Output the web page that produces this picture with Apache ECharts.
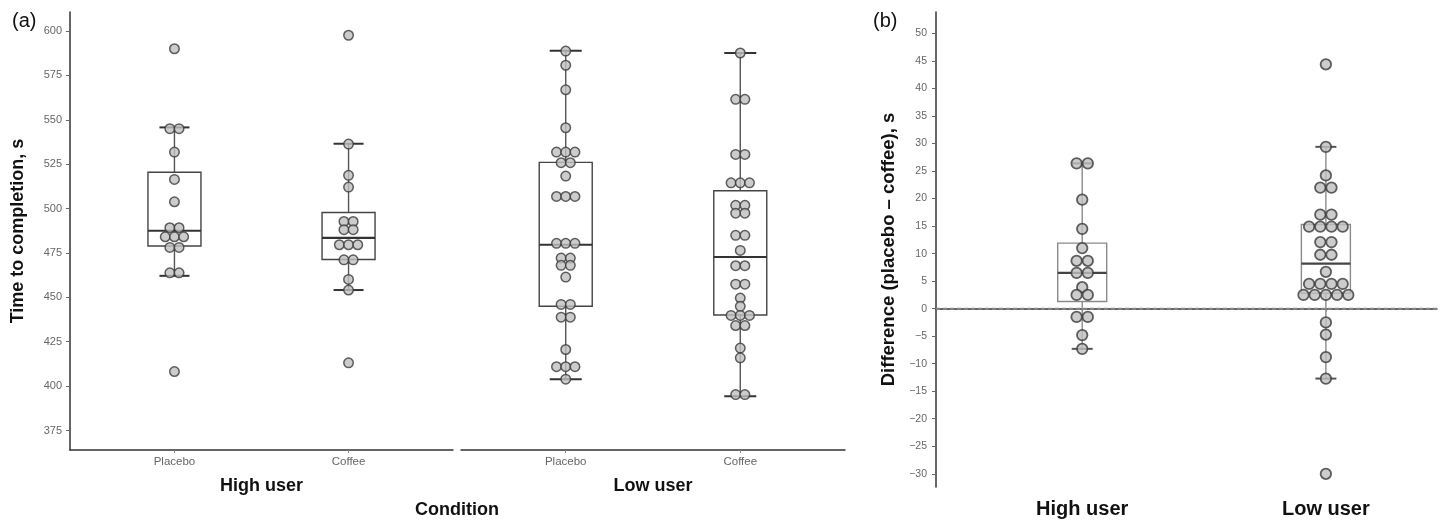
<!DOCTYPE html>
<html>
<head>
<meta charset="utf-8">
<script src="https://cdn.jsdelivr.net/npm/echarts@6/dist/echarts.min.js"></script>
<style>
html, body { margin: 0; padding: 0; background: #fff; }
#chart { width: 1445px; height: 520px; }
</style>
</head>
<body>
<div id="chart"></div>
<script>
// categories and ticks
var conditions = ['Placebo', 'Coffee'];
var userGroups = ['High user', 'Low user'];
var timeTicks = [375, 400, 425, 450, 475, 500, 525, 550, 575, 600];
var diffTicks = [-30, -25, -20, -15, -10, -5, 0, 5, 10, 15, 20, 25, 30, 35, 40, 45, 50];

// panel (a): time to completion, s (one entry per dot)
var highPlacebo = [590, 545, 545, 531.8, 516.4, 503.8, 489.2, 489.2, 484.1, 484.1, 484.1, 478.1, 478.1, 463.8, 463.8, 408.2];
var highCoffee = [597.6, 536.3, 518.7, 512.1, 492.7, 492.7, 488.1, 488.1, 479.6, 479.6, 479.6, 471.1, 471.1, 460.1, 454.1, 413.1];
var lowPlacebo = [588.7, 580.7, 566.9, 545.5, 531.8, 531.8, 531.8, 525.8, 525.8, 518.3, 506.8, 506.8, 506.8,
	480.4, 480.4, 480.4, 472.1, 472.1, 468, 468, 461.4, 446, 446, 438.8, 438.8, 420.6, 410.9, 410.9, 410.9, 403.9];
var lowCoffee = [587.6, 561.5, 561.5, 530.5, 530.5, 514.5, 514.5, 514.5, 501.8, 501.8, 497.4, 497.4, 484.9, 484.9,
	476.4, 467.8, 467.8, 457.4, 457.4, 449.6, 444.9, 439.8, 439.8, 439.8, 434.1, 434.1, 421.4, 415.9, 395.2, 395.2];

// box stats: [lower whisker, Q1, median, Q3, upper whisker]
var highPlaceboBox = [462.1, 478.9, 487.5, 520.4, 545.7];
var highCoffeeBox = [454.1, 471.3, 483.5, 497.8, 536.5];
var lowPlaceboBox = [403.9, 445.0, 479.6, 526.0, 588.9];
var lowCoffeeBox = [394.3, 440.0, 472.7, 510.0, 587.6];

// panel (b): difference (placebo - coffee), s
var highDiff = [26.4, 26.4, 19.8, 14.5, 11.0, 8.7, 8.7, 6.5, 6.5, 3.9, 2.5, 2.5, -1.5, -1.5, -4.8, -7.3];
var lowDiff = [44.4, 29.4, 24.2, 22.0, 22.0, 17.1, 17.1, 14.9, 14.9, 14.9, 14.9, 12.1, 12.1, 9.8, 9.8, 6.7,
	4.5, 4.5, 4.5, 4.5, 2.5, 2.5, 2.5, 2.5, 2.5, -2.5, -4.7, -8.8, -12.7, -30];
var highDiffBox = [-7.3, 1.3, 6.5, 11.9, 26.4];
var lowDiffBox = [-12.7, 2.8, 8.2, 15.3, 29.4];
var zeroLine = [[0.4, 0], [2.456, 0]];

var FONT = '"Liberation Sans", Arial, sans-serif';
var myChart = echarts.init(document.getElementById('chart'));

// centred dot stacking (like geom_dotplot), step given in x units
var stackDots = function(values, xPos, step) {
	var counts = {}, seen = {}, out = [];
	values.forEach(function(v) { counts[v] = (counts[v] || 0) + 1; });
	values.forEach(function(v) {
		var i = seen[v] || 0;
		seen[v] = i + 1;
		out.push([ xPos + (i - (counts[v] - 1) / 2) * step, v ]);
	});
	return out;
};

var boxRenderer = function(boxW, capW, st) {
	return function(params, api) {
		var x = api.value(0);
		var lo = api.coord([ x, api.value(1) ]), q1 = api.coord([ x, api.value(2) ]);
		var med = api.coord([ x, api.value(3) ]), q3 = api.coord([ x, api.value(4) ]);
		var hi = api.coord([ x, api.value(5) ]);
		var cx = lo[0], hb = boxW / 2, hc = capW / 2;
		var seg = function(x1, y1, x2, y2, color, w) {
			return { type : 'line', shape : { x1 : x1, y1 : y1, x2 : x2, y2 : y2 }, style : { stroke : color, lineWidth : w } };
		};
		return {
			type : 'group',
			children : [
				seg(cx, q3[1], cx, hi[1], st.whisker, 1.4),
				seg(cx, q1[1], cx, lo[1], st.whisker, 1.4),
				seg(cx - hc, hi[1], cx + hc, hi[1], st.cap, 2),
				seg(cx - hc, lo[1], cx + hc, lo[1], st.cap, 2),
				{ type : 'rect', shape : { x : cx - hb, y : q3[1], width : boxW, height : q1[1] - q3[1] },
					style : { fill : '#fff', stroke : st.box, lineWidth : 1.4 } },
				seg(cx - hb, med[1], cx + hb, med[1], st.median, 2.2)
			]
		};
	};
};

var styleA = { whisker : '#555', cap : '#333', box : '#444', median : '#333' };
var styleB = { whisker : '#8a8a8a', cap : '#555', box : '#8a8a8a', median : '#444' };

var boxSeries = function(idx, rows, boxW, capW, st) {
	return {
		type : 'custom',
		xAxisIndex : idx,
		yAxisIndex : idx,
		renderItem : boxRenderer(boxW, capW, st),
		encode : { x : 0, y : [ 1, 2, 3, 4, 5 ] },
		data : rows,
		z : 1,
		silent : true
	};
};

var dotSeries = function(idx, data, size, bw) {
	return {
		type : 'scatter',
		xAxisIndex : idx,
		yAxisIndex : idx,
		symbol : 'circle',
		symbolSize : size,
		itemStyle : { color : '#bfbfbf', borderColor : '#3a3a3a', borderWidth : bw },
		data : data,
		z : 3,
		silent : true
	};
};

// step between stacked dots, px -> x units
var stepA = 9.2 * 2.2 / 383;
var stepB = 11.2 * 2.056 / 501;

var catXAxis = function(idx, max, names, labelStyle) {
	return {
		type : 'value',
		gridIndex : idx,
		min : 0.4,
		max : max,
		splitLine : { show : false },
		axisLine : { lineStyle : { color : '#333', width : 1.5 } },
		axisTick : { customValues : [ 1, 2 ], length : 3, lineStyle : { color : '#888' } },
		axisLabel : {
			customValues : [ 1, 2 ],
			formatter : function(v) { return names[Math.round(v) - 1]; },
			color : labelStyle.color,
			fontSize : labelStyle.size,
			fontWeight : labelStyle.weight,
			fontFamily : FONT,
			margin : labelStyle.margin
		}
	};
};

var xA0 = catXAxis(0, 2.6, conditions, { color : '#666', size : 11.5, weight : 'normal', margin : 6 });
xA0.name = userGroups[0];
var xA1 = catXAxis(1, 2.6, conditions, { color : '#666', size : 11.5, weight : 'normal', margin : 6 });
xA1.name = userGroups[1];
[ xA0, xA1 ].forEach(function(a) {
	a.nameLocation = 'middle';
	a.nameGap = 27;
	a.nameTextStyle = { fontSize : 18, fontWeight : 'bold', color : '#111', fontFamily : FONT };
});
var xB = catXAxis(2, 2.456, userGroups, { color : '#111', size : 20, weight : 'bold', margin : 12 });

option = {
	animation : false,
	backgroundColor : '#fff',
	grid : [
		{ left : 70, top : 12, width : 383, height : 438 },
		{ left : 461, top : 12, width : 384, height : 438 },
		{ left : 936, top : 12, width : 501, height : 475 }
	],
	xAxis : [ xA0, xA1, xB ],
	yAxis : [ {
		type : 'value',
		gridIndex : 0,
		min : 364,
		max : 610.7,
		splitLine : { show : false },
		axisLine : { show : true, lineStyle : { color : '#333', width : 1.5 } },
		axisTick : { show : true, customValues : timeTicks, length : 4, lineStyle : { color : '#666' } },
		axisLabel : { customValues : timeTicks, color : '#666', fontSize : 11, fontFamily : FONT, margin : 8 },
		name : 'Time to completion, s',
		nameLocation : 'middle',
		nameGap : 43,
		nameTextStyle : { fontSize : 18, fontWeight : 'bold', color : '#111', fontFamily : FONT }
	}, {
		type : 'value',
		gridIndex : 1,
		min : 364,
		max : 610.7,
		splitLine : { show : false },
		axisLine : { show : false },
		axisTick : { show : false },
		axisLabel : { show : false }
	}, {
		type : 'value',
		gridIndex : 2,
		min : -32.4,
		max : 53.9,
		splitLine : { show : false },
		axisLine : { show : true, lineStyle : { color : '#333', width : 1.5 } },
		axisTick : { show : true, customValues : diffTicks, length : 4, lineStyle : { color : '#666' } },
		axisLabel : {
			customValues : diffTicks,
			formatter : function(v) { return v < 0 ? '\u2212' + Math.abs(v) : String(v); },
			color : '#666', fontSize : 10.5, fontFamily : FONT, margin : 9
		},
		name : 'Difference (placebo \u2013 coffee), s',
		nameLocation : 'middle',
		nameGap : 38,
		nameTextStyle : { fontSize : 18.5, fontWeight : 'bold', color : '#111', fontFamily : FONT }
	} ],
	graphic : [
		{ type : 'text', x : 12, y : 11, style : { text : '(a)', font : '20px ' + FONT, fill : '#111' } },
		{ type : 'text', x : 873, y : 11, style : { text : '(b)', font : '20px ' + FONT, fill : '#111' } },
		{ type : 'text', x : 457, y : 510, style : { text : 'Condition', font : 'bold 18px ' + FONT, fill : '#111', align : 'center', verticalAlign : 'middle' } }
	],
	series : [
		boxSeries(0, [ [ 1 ].concat(highPlaceboBox), [ 2 ].concat(highCoffeeBox) ], 53, 30, styleA),
		boxSeries(1, [ [ 1 ].concat(lowPlaceboBox), [ 2 ].concat(lowCoffeeBox) ], 53, 32, styleA),
		boxSeries(2, [ [ 1 ].concat(highDiffBox), [ 2 ].concat(lowDiffBox) ], 49, 21, styleB),
		{
			// dashed zero reference line
			type : 'line',
			xAxisIndex : 2,
			yAxisIndex : 2,
			data : zeroLine,
			symbol : 'none',
			silent : true,
			z : 2,
			lineStyle : { type : [ 4, 3 ], color : '#888', width : 2 }
		},
		dotSeries(0, stackDots(highPlacebo, 1, stepA).concat(stackDots(highCoffee, 2, stepA)), 9.5, 1.5),
		dotSeries(1, stackDots(lowPlacebo, 1, stepA).concat(stackDots(lowCoffee, 2, stepA)), 9.5, 1.5),
		dotSeries(2, stackDots(highDiff, 1, stepB).concat(stackDots(lowDiff, 2, stepB)), 10.5, 1.8)
	]
};
myChart.setOption(option);
</script>
</body>
</html>
